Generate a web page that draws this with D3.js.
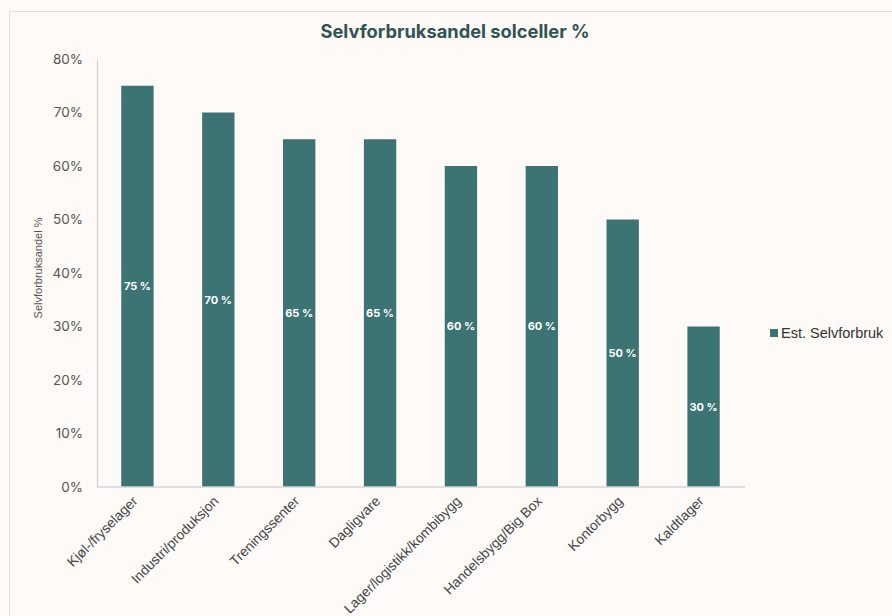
<!DOCTYPE html>
<html><head><meta charset="utf-8">
<script src="https://cdn.jsdelivr.net/npm/d3@7/dist/d3.min.js"></script>
<style>
html,body{margin:0;padding:0;background:#fdfaf7;}
svg{display:block;}
</style></head>
<body>
<svg id="chart" width="892" height="616"></svg>
<script>
const categories = ["Kjøl-/fryselager","Industri/produksjon","Treningssenter","Dagligvare","Lager/logistikk/kombibygg","Handelsbygg/Big Box","Kontorbygg","Kaldtlager"];
const values = [75, 70, 65, 65, 60, 60, 50, 30];
const yTicks = [0,10,20,30,40,50,60,70,80];
const seriesName = "Est. Selvforbruk";
const title = "Selvforbruksandel solceller %";
const yTitle = "Selvforbruksandel %";

const svg = d3.select("#chart");
const W = 892, H = 616;
const m = {left: 97, right: 148, top: 59, bottom: 129};
const barColor = "#3c7373";

svg.append("rect").attr("x",0).attr("y",0).attr("width",W).attr("height",H).attr("fill","#fdfaf7");
svg.append("rect").attr("x",9.5).attr("y",11.5).attr("width",W).attr("height",H)
  .attr("fill","none").attr("stroke","#e2dcd8").attr("stroke-width",1);

const x = d3.scaleBand().domain(categories).range([m.left, W - m.right]).paddingInner(0.6).paddingOuter(0.3);
const y = d3.scaleLinear().domain([0,80]).range([H - m.bottom, m.top]);

// title
svg.append("text").attr("x",455).attr("y",38).attr("text-anchor","middle")
  .attr("font-family","Inter, 'Open Sans', sans-serif").attr("font-weight",700)
  .attr("font-size",18.3).attr("fill","#2f5453").text(title);

// bars
svg.append("g").selectAll("rect").data(values).join("rect")
  .attr("x",(d,i)=>x(categories[i])).attr("y",d=>y(d))
  .attr("width",x.bandwidth()).attr("height",d=>y(0)-y(d)).attr("fill",barColor);

// value labels
svg.append("g").selectAll("text").data(values).join("text")
  .attr("x",(d,i)=>x(categories[i])+x.bandwidth()/2)
  .attr("y",d=>(y(d)+y(0))/2).attr("dy","0.35em").attr("text-anchor","middle")
  .attr("font-family","Inter, 'Open Sans', sans-serif").attr("font-weight",700)
  .attr("font-size",11).attr("fill","#ffffff").text(d=>d+" %");

// y axis
const yAxis = d3.axisLeft(y).tickValues(yTicks).tickFormat(d=>d+"%").tickSize(0).tickPadding(14);
const gy = svg.append("g").attr("transform",`translate(${m.left},0)`).call(yAxis);
gy.select(".domain").attr("stroke","#cfcfcf").attr("stroke-width",1.2);
gy.selectAll("text").attr("font-family","Inter, 'Open Sans', sans-serif").attr("font-size",13.5)
  .attr("fill","#555555");

// x axis
const xAxis = d3.axisBottom(x).tickSize(0).tickPadding(0);
const gx = svg.append("g").attr("transform",`translate(0,${y(0)})`).call(xAxis);
gx.select(".domain").attr("stroke","#d4d4d4").attr("stroke-width",1.5).attr("d",`M${m.left},0H${W-m.right+1}`);
gx.selectAll("text")
  .attr("font-family","'Liberation Sans', Arial, sans-serif").attr("font-size",13.8).attr("fill","#444444")
  .attr("text-anchor","end").attr("dy",null).attr("y",null)
  .attr("transform","translate(1,15) rotate(-45)");

// y title
svg.append("text").attr("transform","translate(42,268) rotate(-90)").attr("text-anchor","middle")
  .attr("font-family","'Liberation Sans', Arial, sans-serif").attr("font-size",11)
  .attr("fill","#555555").text(yTitle);

// legend
const lg = svg.append("g").attr("transform","translate(770,333)");
lg.append("rect").attr("x",0).attr("y",-4).attr("width",8).attr("height",8).attr("fill",barColor);
lg.append("text").attr("x",11).attr("y",0).attr("dy","0.35em")
  .attr("font-family","'Liberation Sans', Arial, sans-serif").attr("font-size",14.5)
  .attr("fill","#333333").text(seriesName);
</script>
</body></html>
